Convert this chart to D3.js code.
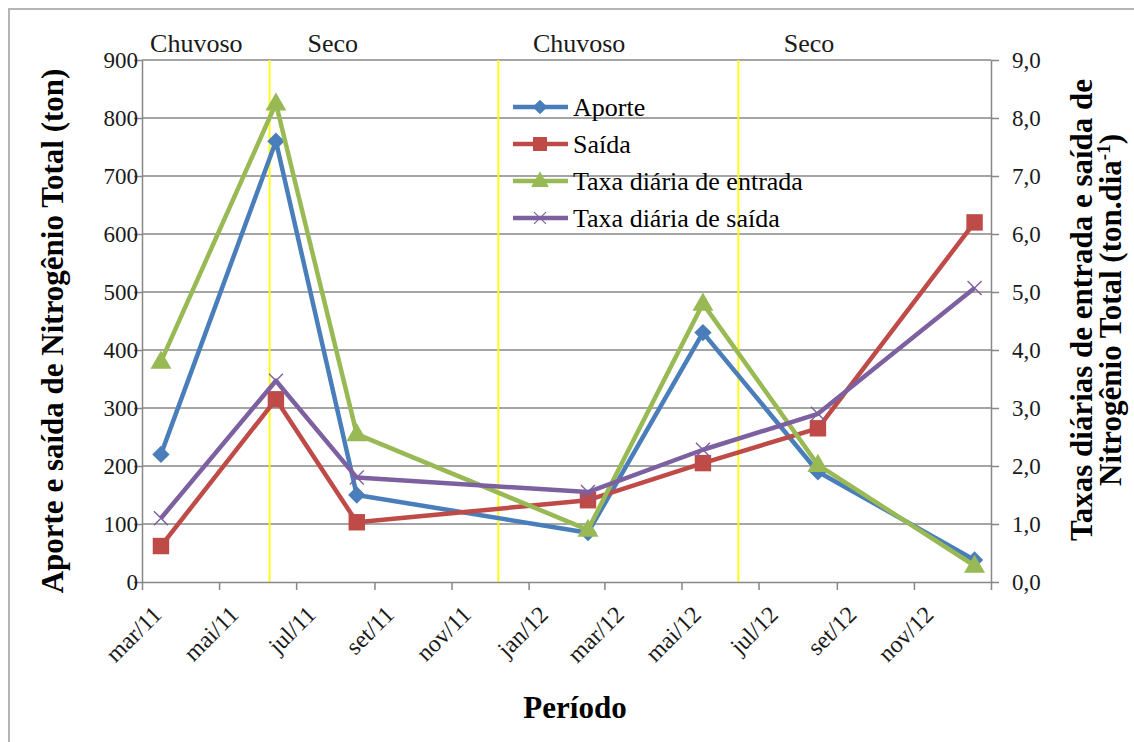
<!DOCTYPE html>
<html>
<head>
<meta charset="utf-8">
<script src="https://cdn.jsdelivr.net/npm/d3@7"></script>
<style>
  body { margin: 0; background: #fff; }
  svg text { font-family: "Liberation Serif", "Times New Roman", serif !important; }
</style>
</head>
<body>
<svg id="chart" width="1134" height="742"></svg>
<script>
// Sampling dates (one per campaign)
const sampleDates = ["2011-03-16", "2011-06-15", "2011-08-18", "2012-02-17", "2012-05-18", "2012-08-17", "2012-12-19"];
// Primary axis (ton)
const aporte = [220, 760, 150, 85, 430, 190, 38];
const saida = [62, 315, 103, 141, 205, 265, 620];
// Secondary axis (ton.dia-1)
const taxaEntrada = [3.8, 8.25, 2.55, 0.9, 4.8, 2.02, 0.28];
const taxaSaida = [1.1, 3.47, 1.8, 1.55, 2.28, 2.9, 5.07];

const leftTicks = [0, 100, 200, 300, 400, 500, 600, 700, 800, 900];
const rightTicks = [0, 1, 2, 3, 4, 5, 6, 7, 8, 9];
const monthTicks = ["2011-03-01", "2011-05-01", "2011-07-01", "2011-09-01", "2011-11-01",
                    "2012-01-01", "2012-03-01", "2012-05-01", "2012-07-01", "2012-09-01", "2012-11-01"];
const monthLabels = ["mar/11", "mai/11", "jul/11", "set/11", "nov/11",
                     "jan/12", "mar/12", "mai/12", "jul/12", "set/12", "nov/12"];
const axisEnd = ["2011-03-01", "2013-01-01"];

// Season boundaries and season names
const seasonBounds = ["2011-06-10", "2011-12-08", "2012-06-15"];
const seasonNames = ["Chuvoso", "Seco", "Chuvoso", "Seco"];
const seasonLabelDates = ["2011-04-13", "2011-07-30", "2012-02-10", "2012-08-10"];

const parse = d3.timeParse("%Y-%m-%d");
const svg = d3.select("#chart");
const serif = "'Liberation Serif', 'Times New Roman', serif";

const plot = { left: 142, right: 991, top: 60, bottom: 582 };

const x = d3.scaleTime().domain(axisEnd.map(parse)).range([plot.left, plot.right]);
const yL = d3.scaleLinear().domain([0, 900]).range([plot.bottom, plot.top]);
const yR = d3.scaleLinear().domain([0, 9]).range([plot.bottom, plot.top]);

const gridColor = "#878787";
const textColor = "#1a1a1a";

// outer frame (left and top edges)
svg.append("path")
  .attr("d", "M9,742 V9 H1134")
  .attr("fill", "none").attr("stroke", "#b4b4b4").attr("stroke-width", 2);

// horizontal gridlines
svg.append("g").selectAll("line")
  .data(leftTicks.filter(d => d > 0))
  .join("line")
  .attr("x1", plot.left).attr("x2", plot.right)
  .attr("y1", d => yL(d)).attr("y2", d => yL(d))
  .attr("stroke", gridColor).attr("stroke-width", 1.5);

// season boundaries
svg.append("g").selectAll("line")
  .data(seasonBounds.map(parse))
  .join("line")
  .attr("x1", d => x(d)).attr("x2", d => x(d))
  .attr("y1", plot.top).attr("y2", plot.bottom)
  .attr("stroke", "#ffff00").attr("stroke-width", 1.8);

// season names
svg.append("g").selectAll("text")
  .data(seasonNames)
  .join("text")
  .attr("x", (d, i) => x(parse(seasonLabelDates[i])))
  .attr("y", 52)
  .attr("text-anchor", "middle")
  .attr("font-size", 26)
  .attr("fill", textColor)
  .text(d => d);

function styleAxis(g) {
  g.attr("font-family", serif);
  g.select(".domain").attr("stroke", gridColor).attr("stroke-width", 1.5);
  g.selectAll(".tick line").attr("stroke", gridColor).attr("stroke-width", 1.5);
  g.selectAll(".tick text").attr("fill", textColor).attr("font-size", 23);
}

// left axis
svg.append("g")
  .attr("transform", `translate(${plot.left},0)`)
  .call(d3.axisLeft(yL).tickValues(leftTicks).tickSize(8).tickSizeOuter(0))
  .call(styleAxis)
  .call(g => g.selectAll(".tick text").attr("x", -4));

// right axis
const fmtComma = d => d3.format(".1f")(d).replace(".", ",");
svg.append("g")
  .attr("transform", `translate(${plot.right},0)`)
  .call(d3.axisRight(yR).tickValues(rightTicks).tickSize(8).tickSizeOuter(0).tickPadding(13).tickFormat(fmtComma))
  .call(styleAxis);

// bottom axis
const xTickDates = monthTicks.map(parse).concat([parse(axisEnd[1])]);
svg.append("g")
  .attr("transform", `translate(0,${plot.bottom})`)
  .call(d3.axisBottom(x).tickValues(xTickDates).tickSize(8).tickSizeOuter(0).tickFormat(""))
  .call(styleAxis);

// rotated month labels
svg.append("g").selectAll("text")
  .data(monthTicks)
  .join("text")
  .attr("transform", d => `translate(${x(parse(d)) + 21},${plot.bottom + 34}) rotate(-45)`)
  .attr("text-anchor", "end")
  .attr("font-size", 24)
  .attr("fill", textColor)
  .text((d, i) => monthLabels[i]);

// axis titles
svg.append("text")
  .attr("transform", `translate(63,${(66 + 596) / 2}) rotate(-90)`)
  .attr("text-anchor", "middle")
  .attr("font-size", 31).attr("font-weight", "bold").attr("fill", "#000")
  .text("Aporte e saída  de Nitrogênio Total (ton)");

svg.append("text")
  .attr("transform", `translate(1092,310) rotate(-90)`)
  .attr("text-anchor", "middle")
  .attr("font-size", 31).attr("font-weight", "bold").attr("fill", "#000")
  .text("Taxas diárias  de entrada e saída de");

const rt2 = svg.append("text")
  .attr("transform", `translate(1121,310) rotate(-90)`)
  .attr("text-anchor", "middle")
  .attr("font-size", 31).attr("font-weight", "bold").attr("fill", "#000");
rt2.append("tspan").text("Nitrogênio Total (ton.dia");
rt2.append("tspan").attr("font-size", 19).attr("dy", -11).text("-1");
rt2.append("tspan").attr("dy", 11).text(")");

svg.append("text")
  .attr("x", 575).attr("y", 718)
  .attr("text-anchor", "middle")
  .attr("font-size", 31).attr("font-weight", "bold").attr("fill", "#000")
  .text("Período");

// series definitions
const series = [
  { name: "Aporte", values: aporte, scale: yL, color: "#4a7ebb", marker: "diamond" },
  { name: "Saída", values: saida, scale: yL, color: "#be4b48", marker: "square" },
  { name: "Taxa diária de entrada", values: taxaEntrada, scale: yR, color: "#98b954", marker: "triangle" },
  { name: "Taxa diária de saída", values: taxaSaida, scale: yR, color: "#7d60a0", marker: "x" }
];

const markerPath = {
  diamond: d3.symbol().type(d3.symbolSquare).size(150)(),
  square: d3.symbol().type(d3.symbolSquare).size(270)(),
  triangle: d3.symbol().type(d3.symbolTriangle).size(190)(),
  x: "M-7,-7L7,7M-7,7L7,-7"
};

function drawMarker(g, s, cx, cy, scale = 1) {
  const m = g.append("path")
    .attr("d", markerPath[s.marker])
    .attr("transform", `translate(${cx},${cy}) scale(${scale})` + (s.marker === "diamond" ? " rotate(45)" : "") + (s.marker === "triangle" ? " translate(0,1)" : ""));
  if (s.marker === "x") {
    m.attr("fill", "none").attr("stroke", s.color).attr("stroke-width", 1.4);
  } else {
    m.attr("fill", s.color);
  }
}

const dates = sampleDates.map(parse);

series.forEach(s => {
  const pts = s.values.map((v, i) => [x(dates[i]), s.scale(v)]);
  const g = svg.append("g");
  g.append("path")
    .attr("d", d3.line()(pts))
    .attr("fill", "none")
    .attr("stroke", s.color)
    .attr("stroke-width", 4.5)
    .attr("stroke-linejoin", "round");
  pts.forEach(p => drawMarker(g, s, p[0], p[1]));
});

// legend
const legend = svg.append("g");
series.forEach((s, i) => {
  const ly = 107 + i * 37;
  legend.append("line")
    .attr("x1", 513).attr("x2", 568)
    .attr("y1", ly).attr("y2", ly)
    .attr("stroke", s.color).attr("stroke-width", 4.5);
  drawMarker(legend, s, 540, ly, 0.85);
  legend.append("text")
    .attr("x", 573).attr("y", ly + 9)
    .attr("font-size", 26)
    .attr("fill", "#000")
    .text(s.name);
});
</script>
</body>
</html>
